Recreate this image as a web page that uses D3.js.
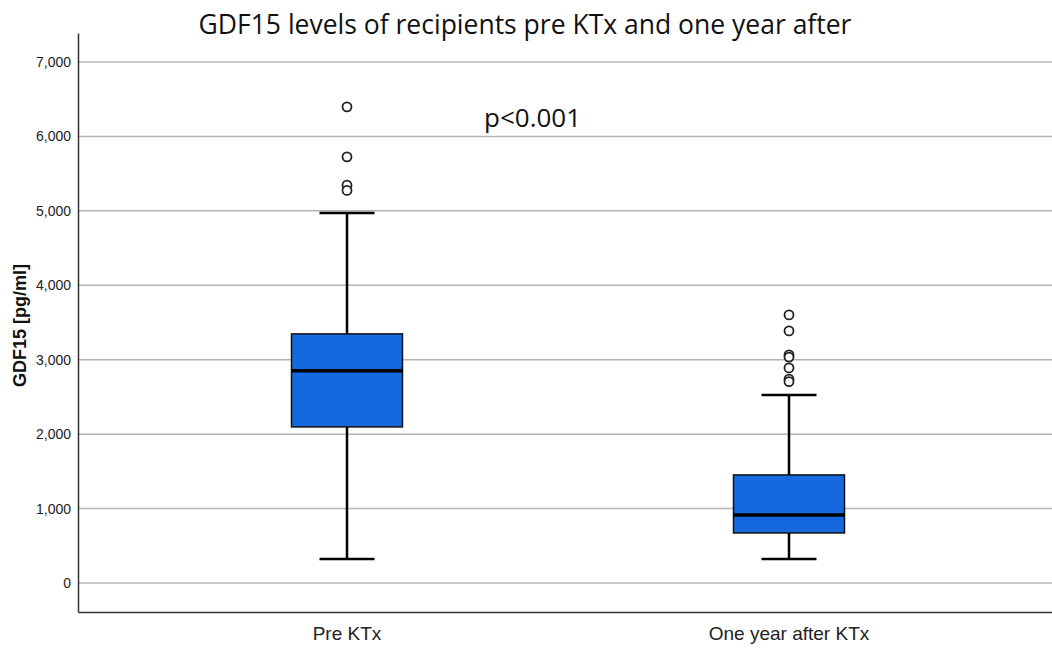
<!DOCTYPE html>
<html>
<head>
	<title>GDF15 box plot</title>
	<style>
		body { margin: 0; background: #fff; }
	</style>
</head>
<body>
	<svg id="canvas" width="1052" height="648"></svg>
	<script type="text/javascript" src="https://cdn.jsdelivr.net/npm/d3@7"></script>
	<script type="text/javascript">
		// data
		let groups = ["Pre KTx", "One year after KTx"];
		let q1 = [2097, 672];
		let medians = [2850, 914];
		let q3 = [3347, 1452];
		let whiskerLow = [323, 323];
		let whiskerHigh = [4973, 2527];
		let outliers = [
			[6398, 5726, 5345, 5275],
			[3602, 3387, 3065, 3035, 2890, 2740, 2705]
		];
		let yTicks = [0, 1000, 2000, 3000, 4000, 5000, 6000, 7000];

		let svg = d3.select("#canvas");
		let margin = {top: 33, right: 0, bottom: 36, left: 78};
		let width = +svg.attr("width") - margin.left - margin.right;
		let height = +svg.attr("height") - margin.top - margin.bottom;

		let g = svg.append("g")
			.attr("transform", "translate(" + margin.left + "," + margin.top + ")");

		// Scales
		let y = d3.scaleLinear()
			.domain([-390, 7390])
			.range([height, 0]);
		let x = d3.scaleBand()
			.domain(groups)
			.range([0, width]);
		// box centres in the reference sit at ~347 and ~789
		let cx = d3.scaleOrdinal().domain(groups).range([347 - margin.left, 789 - margin.left]);
		let boxW = 111, capW = 55;

		// grid lines
		g.append("g")
			.selectAll("line")
			.data(yTicks)
			.enter().append("line")
				.attr("x1", 0)
				.attr("x2", width)
				.attr("y1", d => y(d))
				.attr("y2", d => y(d))
				.attr("stroke", "#b4b4b4")
				.attr("stroke-width", 1.5);

		// y axis
		let yAxis = g.append("g")
			.call(d3.axisLeft(y).tickValues(yTicks).tickFormat(d3.format(",")).tickSize(0).tickPadding(7));
		yAxis.select(".domain").attr("stroke", "#333").attr("stroke-width", 1.5);
		yAxis.selectAll("text")
			.attr("font-family", "Liberation Sans, Arial, sans-serif")
			.attr("font-size", 14)
			.attr("fill", "#222");

		// x axis
		let xAxis = g.append("g")
			.attr("transform", "translate(0," + height + ")")
			.call(d3.axisBottom(x).tickSize(0).tickPadding(15));
		xAxis.select(".domain").attr("stroke", "#333").attr("stroke-width", 1.5);
		xAxis.selectAll(".tick").attr("transform", d => "translate(" + cx(d) + ",0)");
		xAxis.selectAll("text")
			.attr("font-family", "Liberation Sans, Arial, sans-serif")
			.attr("font-size", 19)
			.attr("fill", "#222");

		// boxes
		let boxes = g.selectAll(".box")
			.data(groups)
			.enter().append("g")
				.attr("class", "box")
				.attr("transform", d => "translate(" + cx(d) + ",0)");

		// whisker stems
		boxes.append("line")
			.attr("x1", 0).attr("x2", 0)
			.attr("y1", (d, i) => y(whiskerLow[i]))
			.attr("y2", (d, i) => y(whiskerHigh[i]))
			.attr("stroke", "#000").attr("stroke-width", 2.5);

		// caps
		boxes.selectAll(".cap")
			.data((d, i) => [whiskerLow[i], whiskerHigh[i]])
			.enter().append("line")
				.attr("class", "cap")
				.attr("x1", -capW / 2).attr("x2", capW / 2)
				.attr("y1", d => y(d)).attr("y2", d => y(d))
				.attr("stroke", "#000").attr("stroke-width", 2.5);

		boxes.append("rect")
			.attr("x", -boxW / 2)
			.attr("width", boxW)
			.attr("y", (d, i) => y(q3[i]))
			.attr("height", (d, i) => y(q1[i]) - y(q3[i]))
			.attr("fill", "#1569de")
			.attr("stroke", "#111")
			.attr("stroke-width", 1.5);

		boxes.append("line")
			.attr("x1", -boxW / 2).attr("x2", boxW / 2)
			.attr("y1", (d, i) => y(medians[i]))
			.attr("y2", (d, i) => y(medians[i]))
			.attr("stroke", "#000").attr("stroke-width", 3.5);

		boxes.selectAll("circle")
			.data((d, i) => outliers[i])
			.enter().append("circle")
				.attr("cx", 0)
				.attr("cy", d => y(d))
				.attr("r", 4.5)
				.attr("fill", "#fff")
				.attr("stroke", "#222")
				.attr("stroke-width", 1.8);

		// labels
		svg.append("text")
			.attr("x", 525)
			.attr("y", 34)
			.attr("text-anchor", "middle")
			.attr("font-family", "Open Sans, sans-serif")
			.attr("font-size", 26.5)
			.attr("fill", "#111")
			.text("GDF15 levels of recipients pre KTx and one year after");

		svg.append("text")
			.attr("x", 484)
			.attr("y", 127)
			.attr("font-family", "Open Sans, sans-serif")
			.attr("font-size", 26)
			.attr("fill", "#111")
			.text("p<0.001");

		svg.append("text")
			.attr("transform", "translate(26," + (y(3500) + margin.top + 3) + ") rotate(-90)")
			.attr("text-anchor", "middle")
			.attr("font-family", "Liberation Sans, Arial, sans-serif")
			.attr("font-weight", "bold")
			.attr("font-size", 18)
			.attr("fill", "#111")
			.text("GDF15 [pg/ml]");
	</script>
</body>
</html>
